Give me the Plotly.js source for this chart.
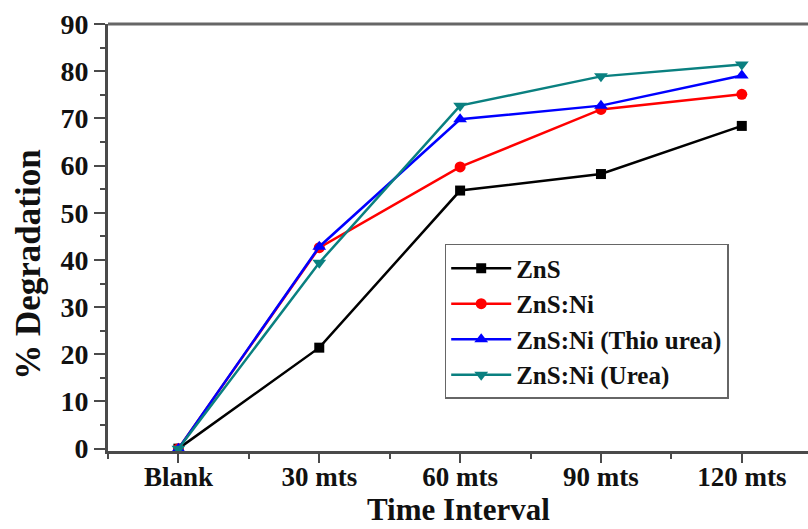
<!DOCTYPE html>
<html>
<head>
<meta charset="utf-8">
<script src="https://cdn.plot.ly/plotly-3.0.1.min.js"></script>
<style>
  html, body { margin: 0; padding: 0; background: #fff; }
  #chart { width: 808px; height: 529px; }
</style>
</head>
<body>
<div id="chart"></div>
<script>
// Time points of the photocatalytic run
const categories = ["Blank", "30 mts", "60 mts", "90 mts", "120 mts"];

// % degradation for each catalyst
const znS         = [0, 21.4, 54.7, 58.2, 68.4];
const znSNi       = [0, 42.6, 59.7, 71.9, 75.1];
const znSNiThio   = [0, 42.8, 69.8, 72.7, 79.1];
const znSNiUrea   = [0, 39.4, 72.7, 78.9, 81.4];

const seriesNames = ["ZnS", "ZnS:Ni", "ZnS:Ni (Thio urea)", "ZnS:Ni (Urea)"];
const yTicks = [0, 10, 20, 30, 40, 50, 60, 70, 80, 90];

const serif = "'Liberation Serif', 'Times New Roman', Times, serif";
const xIdx = categories.map((_, i) => i);

function series(name, y, color, symbol, size) {
  return {
    x: xIdx, y: y, name: name, type: "scatter", mode: "lines+markers",
    line: { color: color, width: 2.5 },
    marker: { color: color, symbol: symbol, size: size },
    cliponaxis: false
  };
}

const traces = [
  series(seriesNames[0], znS, "#000000", "square", 10),
  series(seriesNames[1], znSNi, "#ff0000", "circle", 11),
  series(seriesNames[2], znSNiThio, "#0000ff", "triangle-up", 12),
  series(seriesNames[3], znSNiUrea, "#0a8080", "triangle-down", 12)
];

const axisColor = "#4a4a4a";

const layout = {
  width: 808, height: 529,
  margin: { l: 108, r: 0, t: 24, b: 78 },
  paper_bgcolor: "#ffffff", plot_bgcolor: "#ffffff",
  font: { family: serif, color: "#111", weight: "bold" },
  showlegend: true,
  legend: {
    x: 0.481, y: 0.485, xanchor: "left", yanchor: "top",
    bgcolor: "#ffffff", bordercolor: "#666", borderwidth: 1.5,
    font: { family: serif, size: 25, color: "#111", weight: "bold" },
    itemwidth: 60, tracegroupgap: 0
  },
  xaxis: {
    range: [-0.5, 4.47],
    tickmode: "array", tickvals: xIdx, ticktext: categories,
    ticks: "outside", ticklen: 9, tickwidth: 2, tickcolor: axisColor,
    minor: { dtick: 0.5, tick0: 0.5, ticks: "outside", ticklen: 5, tickwidth: 2, tickcolor: axisColor },
    showline: true, linecolor: axisColor, linewidth: 3, mirror: false,
    showgrid: false, zeroline: false, ticklabelstandoff: -9,
    tickfont: { family: serif, size: 27, color: "#111", weight: "bold" }
  },
  yaxis: {
    range: [-0.5, 90],
    tickmode: "array", tickvals: yTicks,
    ticks: "outside", ticklen: 11, tickwidth: 2, tickcolor: axisColor,
    minor: { dtick: 5, tick0: 5, ticks: "outside", ticklen: 5, tickwidth: 2, tickcolor: axisColor },
    showline: true, linecolor: axisColor, linewidth: 3,
    showgrid: false, zeroline: false,
    tickfont: { family: serif, size: 28, color: "#111", weight: "bold" }
  },
  shapes: [
    // top frame line of the plot area
    { type: "line", xref: "paper", yref: "paper", x0: 0, x1: 1, y0: 1, y1: 1,
      line: { color: "#666", width: 3 } }
  ],
  annotations: [
    { text: "% Degradation", xref: "paper", yref: "paper", x: -0.113, y: 0.436,
      xanchor: "center", yanchor: "middle", textangle: -90, showarrow: false,
      font: { family: serif, size: 35, color: "#111", weight: "bold" } },
    { text: "Time Interval", xref: "paper", yref: "paper", x: 0.5, y: -0.182,
      xanchor: "center", yanchor: "bottom", showarrow: false,
      font: { family: serif, size: 31, color: "#111", weight: "bold" } }
  ]
};

Plotly.newPlot("chart", traces, layout, { staticPlot: true, displayModeBar: false });
</script>
</body>
</html>
